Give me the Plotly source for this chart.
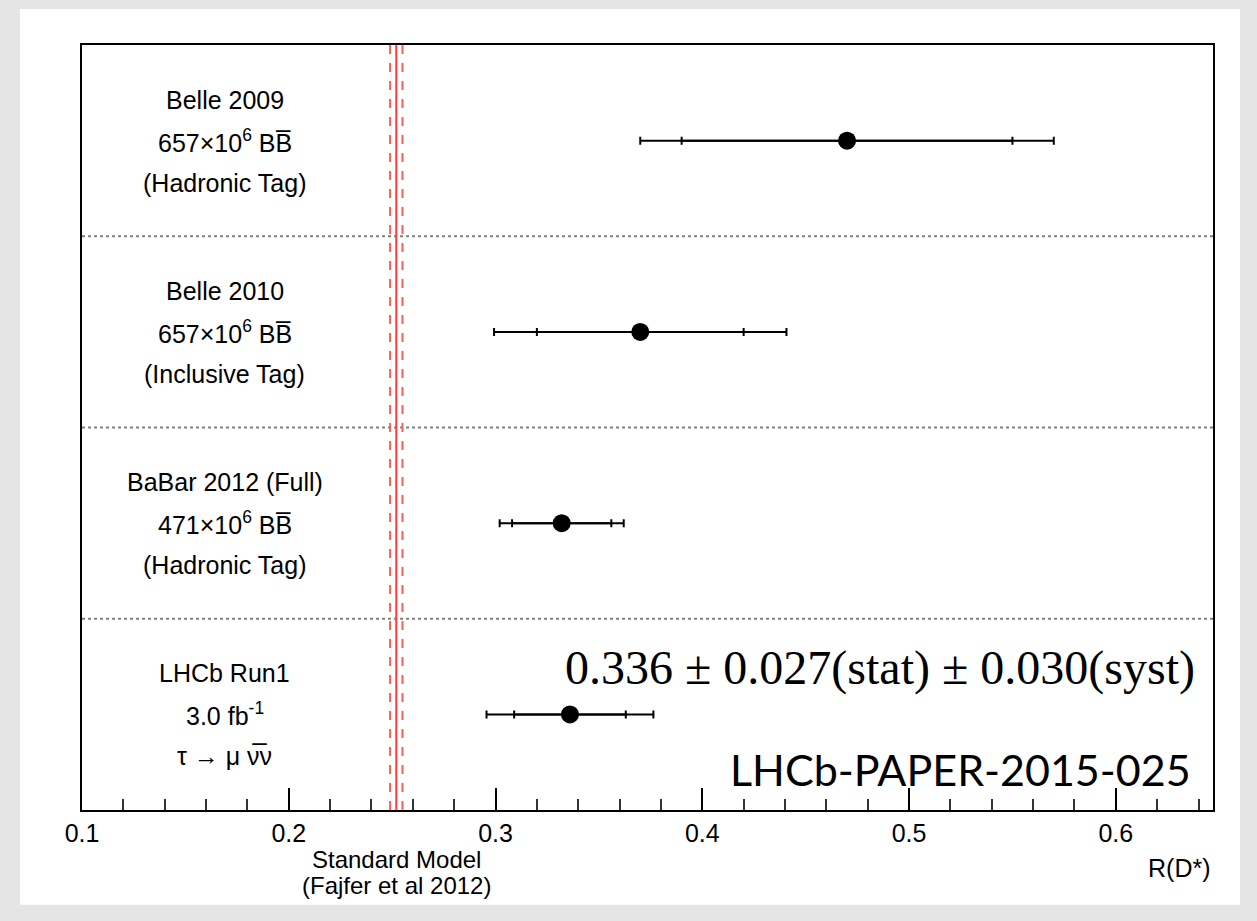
import numpy as np
import plotly.graph_objects as go

# Measurements of R(D*) (rows from top to bottom)
experiments = ["Belle 2009", "Belle 2010", "BaBar 2012 (Full)", "LHCb Run1"]
samples = ["657×10<sup>6</sup> BB\u0305", "657×10<sup>6</sup> BB\u0305",
           "471×10<sup>6</sup> BB\u0305", "3.0 fb<sup>-1</sup>"]
methods = ["(Hadronic Tag)", "(Inclusive Tag)", "(Hadronic Tag)", "τ → μ ν\u0305ν"]
r_values = [0.47, 0.37, 0.332, 0.336]
stat_err = [0.08, 0.05, 0.024, 0.027]
syst_err = [0.06, 0.05, 0.018, 0.030]
row_pos = [3.5, 2.5, 1.5, 0.5]

# Standard Model prediction
sm_value = 0.252
sm_err = 0.003

x_ticks = [0.1, 0.2, 0.3, 0.4, 0.5, 0.6]
x_tick_labels = ["0.1", "0.2", "0.3", "0.4", "0.5", "0.6"]

total_err = list(np.sqrt(np.array(stat_err) ** 2 + np.array(syst_err) ** 2))

SANS = "Liberation Sans, Arial, Helvetica, sans-serif"

fig = go.Figure()

# statistical error (inner ticks)
fig.add_trace(go.Scatter(
    x=r_values, y=row_pos, mode="markers",
    marker=dict(size=1, color="rgba(0,0,0,0)"),
    error_x=dict(type="data", array=stat_err, symmetric=True,
                 color="black", thickness=2, width=4),
    hoverinfo="skip", showlegend=False,
))
# total error (outer ticks) with central value
fig.add_trace(go.Scatter(
    x=r_values, y=row_pos, mode="markers",
    marker=dict(size=18, color="black"),
    error_x=dict(type="data", array=total_err, symmetric=True,
                 color="black", thickness=2, width=4),
    showlegend=False,
))

shapes = []
# white panel behind the whole figure
shapes.append(dict(type="rect", xref="paper", yref="paper",
                   x0=-0.0548, x1=1.0239, y0=-0.124, y1=1.047,
                   fillcolor="white", line=dict(width=0), layer="below"))
# dotted row separators
for yb in [1, 2, 3]:
    shapes.append(dict(type="line", xref="paper", yref="y", x0=0, x1=1, y0=yb, y1=yb,
                       line=dict(color="#808080", width=2, dash="dot")))
# Standard Model band
shapes.append(dict(type="line", xref="x", yref="paper", x0=sm_value, x1=sm_value, y0=0, y1=1,
                   line=dict(color="#ff3b3b", width=2)))
for xs in [sm_value - sm_err, sm_value + sm_err]:
    shapes.append(dict(type="line", xref="x", yref="paper", x0=xs, x1=xs, y0=0, y1=1,
                       line=dict(color="#ff5c5c", width=2, dash="dash")))

annotations = []
label_x = 0.169
for exp, smp, meth, yp in zip(experiments, samples, methods, row_pos):
    for txt, shift in [(exp, 41), (smp, 0), (meth, -42)]:
        annotations.append(dict(text=txt, x=label_x, y=yp, xref="x", yref="y",
                                xanchor="center", yanchor="middle", yshift=shift,
                                showarrow=False, font=dict(family=SANS, size=25, color="black")))

annotations += [
    dict(text="R(D*)", x=1, y=-0.0758, xref="paper", yref="paper",
         xanchor="right", yanchor="middle", showarrow=False,
         font=dict(family=SANS, size=25, color="black")),
    dict(text="Standard Model", x=sm_value, y=-0.0645, xref="x", yref="paper",
         xanchor="center", yanchor="middle", showarrow=False,
         font=dict(family=SANS, size=24, color="black")),
    dict(text="(Fajfer et al 2012)", x=sm_value, y=-0.0985, xref="x", yref="paper",
         xanchor="center", yanchor="middle", showarrow=False,
         font=dict(family=SANS, size=24, color="black")),
    dict(text="0.336 ± 0.027(stat) ± 0.030(syst)", x=0.9859, y=0.1856,
         xref="paper", yref="paper", xanchor="right", yanchor="middle", showarrow=False,
         font=dict(family="Liberation Serif, DejaVu Serif, serif", size=48, color="black")),
    dict(text="LHCb-PAPER-2015-025", x=0.982, y=0.0523,
         xref="paper", yref="paper", xanchor="right", yanchor="middle", showarrow=False,
         font=dict(family="Lato, Open Sans, sans-serif", size=43, color="black")),
]

fig.update_layout(
    width=1257, height=921,
    margin=dict(l=82, r=44, t=45, b=111),
    paper_bgcolor="#e5e5e5", plot_bgcolor="white",
    shapes=shapes, annotations=annotations,
    showlegend=False,
    xaxis=dict(range=[0.1, 0.647], tickvals=x_ticks, ticktext=x_tick_labels,
               ticks="inside", ticklen=22, tickwidth=2, tickcolor="black",
               minor=dict(dtick=0.02, ticks="inside", ticklen=11, tickwidth=2, tickcolor="#333"),
               showline=True, linewidth=2, linecolor="black", mirror=True,
               showgrid=False, zeroline=False,
               tickfont=dict(family=SANS, size=25, color="black")),
    yaxis=dict(range=[0, 4], showticklabels=False, ticks="",
               showline=True, linewidth=2, linecolor="black", mirror=True,
               showgrid=False, zeroline=False),
)

fig.write_html("out.html")
